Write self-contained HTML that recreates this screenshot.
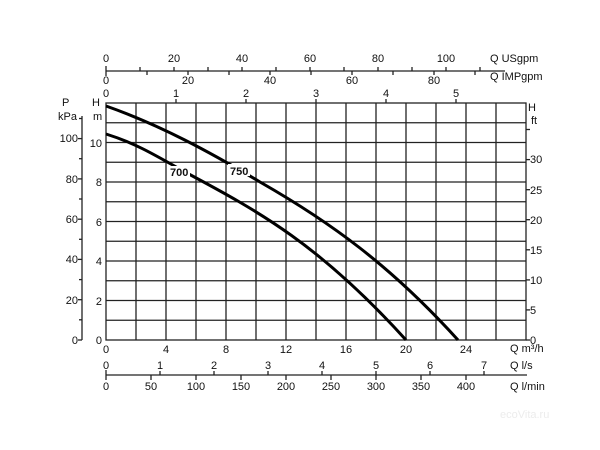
<!DOCTYPE html>
<html><head><meta charset="utf-8"><style>
html,body{margin:0;padding:0;background:#fff}
svg{display:block}
text{font-family:"Liberation Sans",sans-serif;font-size:11px;fill:#111}
</style></head><body>
<svg width="600" height="450" viewBox="0 0 600 450">
<g stroke="#222" stroke-width="1.3" fill="none">
<rect x="106" y="103" width="420" height="237"/>
<line x1="136" y1="103" x2="136" y2="340"/><line x1="166" y1="103" x2="166" y2="340"/><line x1="196" y1="103" x2="196" y2="340"/><line x1="226" y1="103" x2="226" y2="340"/><line x1="256" y1="103" x2="256" y2="340"/><line x1="286" y1="103" x2="286" y2="340"/><line x1="316" y1="103" x2="316" y2="340"/><line x1="346" y1="103" x2="346" y2="340"/><line x1="376" y1="103" x2="376" y2="340"/><line x1="406" y1="103" x2="406" y2="340"/><line x1="436" y1="103" x2="436" y2="340"/><line x1="466" y1="103" x2="466" y2="340"/><line x1="496" y1="103" x2="496" y2="340"/>
<line x1="106" y1="320.25" x2="526" y2="320.25"/><line x1="106" y1="300.5" x2="526" y2="300.5"/><line x1="106" y1="280.75" x2="526" y2="280.75"/><line x1="106" y1="261" x2="526" y2="261"/><line x1="106" y1="241.25" x2="526" y2="241.25"/><line x1="106" y1="221.5" x2="526" y2="221.5"/><line x1="106" y1="201.75" x2="526" y2="201.75"/><line x1="106" y1="182" x2="526" y2="182"/><line x1="106" y1="162.25" x2="526" y2="162.25"/><line x1="106" y1="142.5" x2="526" y2="142.5"/><line x1="106" y1="122.75" x2="526" y2="122.75"/>
<!-- P axis -->
<line x1="82" y1="116" x2="82" y2="340"/>
<line x1="78" y1="340" x2="82" y2="340"/><line x1="78" y1="299.7" x2="82" y2="299.7"/><line x1="78" y1="259.4" x2="82" y2="259.4"/><line x1="78" y1="219.2" x2="82" y2="219.2"/><line x1="78" y1="178.9" x2="82" y2="178.9"/><line x1="78" y1="138.6" x2="82" y2="138.6"/>
<line x1="79" y1="319.8" x2="82" y2="319.8"/><line x1="79" y1="279.6" x2="82" y2="279.6"/><line x1="79" y1="239.3" x2="82" y2="239.3"/><line x1="79" y1="199" x2="82" y2="199"/><line x1="79" y1="158.7" x2="82" y2="158.7"/><line x1="79" y1="118.5" x2="82" y2="118.5"/>
<!-- top axis -->
<line x1="106" y1="71" x2="505" y2="71"/>
<line x1="106" y1="66" x2="106" y2="76"/>
<line x1="174" y1="67" x2="174" y2="71"/><line x1="242" y1="67" x2="242" y2="71"/><line x1="310" y1="67" x2="310" y2="71"/><line x1="378" y1="67" x2="378" y2="71"/><line x1="446" y1="67" x2="446" y2="71"/>
<line x1="140" y1="67" x2="140" y2="71"/><line x1="208" y1="67" x2="208" y2="71"/><line x1="276" y1="67" x2="276" y2="71"/><line x1="344" y1="67" x2="344" y2="71"/><line x1="412" y1="67" x2="412" y2="71"/><line x1="480" y1="67" x2="480" y2="71"/>
<line x1="147" y1="71" x2="147" y2="75"/><line x1="188" y1="71" x2="188" y2="75"/><line x1="229" y1="71" x2="229" y2="75"/><line x1="270" y1="71" x2="270" y2="75"/><line x1="311" y1="71" x2="311" y2="75"/><line x1="352" y1="71" x2="352" y2="75"/><line x1="393" y1="71" x2="393" y2="75"/><line x1="434" y1="71" x2="434" y2="75"/><line x1="475" y1="71" x2="475" y2="75"/>
<line x1="176" y1="99" x2="176" y2="103"/><line x1="246" y1="99" x2="246" y2="103"/><line x1="316" y1="99" x2="316" y2="103"/><line x1="386" y1="99" x2="386" y2="103"/><line x1="456" y1="99" x2="456" y2="103"/>
<!-- right ticks -->
<line x1="526" y1="340" x2="530" y2="340"/><line x1="526" y1="309.9" x2="530" y2="309.9"/><line x1="526" y1="279.9" x2="530" y2="279.9"/><line x1="526" y1="249.8" x2="530" y2="249.8"/><line x1="526" y1="219.7" x2="530" y2="219.7"/><line x1="526" y1="189.7" x2="530" y2="189.7"/><line x1="526" y1="159.6" x2="530" y2="159.6"/><line x1="526" y1="129.5" x2="530" y2="129.5"/>
<!-- bottom axis -->
<line x1="106" y1="375" x2="527" y2="375"/>
<line x1="106" y1="370" x2="106" y2="380"/>
<line x1="160" y1="371" x2="160" y2="375"/><line x1="214" y1="371" x2="214" y2="375"/><line x1="268" y1="371" x2="268" y2="375"/><line x1="322" y1="371" x2="322" y2="375"/><line x1="376" y1="371" x2="376" y2="375"/><line x1="430" y1="371" x2="430" y2="375"/><line x1="484" y1="371" x2="484" y2="375"/>
<line x1="151" y1="375" x2="151" y2="380"/><line x1="196" y1="375" x2="196" y2="380"/><line x1="241" y1="375" x2="241" y2="380"/><line x1="286" y1="375" x2="286" y2="380"/><line x1="331" y1="375" x2="331" y2="380"/><line x1="376" y1="375" x2="376" y2="380"/><line x1="421" y1="375" x2="421" y2="380"/><line x1="466" y1="375" x2="466" y2="380"/>
</g>
<g stroke="#000" stroke-width="3" fill="none">
<path d="M106,106 C160,125 210,152 260,182 C330,222 390,265 458,340"/>
<path d="M106,134 C135,143 155,155 185,172 C260,212 320,245 406,340"/>
</g>
<g font-weight="bold" font-size="11">
<rect x="168" y="166" width="22" height="12" fill="#fff"/><text x="170" y="176">700</text>
<rect x="228" y="164" width="22" height="12" fill="#fff"/><text x="230" y="175">750</text>
</g>
<g text-anchor="middle">
<text x="106" y="62">0</text><text x="174" y="62">20</text><text x="242" y="62">40</text><text x="310" y="62">60</text><text x="378" y="62">80</text><text x="446" y="62">100</text>
<text x="106" y="84">0</text><text x="188" y="84">20</text><text x="270" y="84">40</text><text x="352" y="84">60</text><text x="434" y="84">80</text>
<text x="106" y="97">0</text><text x="176" y="97">1</text><text x="246" y="97">2</text><text x="316" y="97">3</text><text x="386" y="97">4</text><text x="456" y="97">5</text>
<text x="106" y="353">0</text><text x="166" y="353">4</text><text x="226" y="353">8</text><text x="286" y="353">12</text><text x="346" y="353">16</text><text x="406" y="353">20</text><text x="466" y="353">24</text>
<text x="106" y="369">0</text><text x="160" y="369">1</text><text x="214" y="369">2</text><text x="268" y="369">3</text><text x="322" y="369">4</text><text x="376" y="369">5</text><text x="430" y="369">6</text><text x="484" y="369">7</text>
<text x="106" y="390">0</text><text x="151" y="390">50</text><text x="196" y="390">100</text><text x="241" y="390">150</text><text x="286" y="390">200</text><text x="331" y="390">250</text><text x="376" y="390">300</text><text x="421" y="390">350</text><text x="466" y="390">400</text>
</g>
<g text-anchor="end">
<text x="78" y="344">0</text><text x="78" y="304">20</text><text x="78" y="263">40</text><text x="78" y="223">60</text><text x="78" y="183">80</text><text x="78" y="142">100</text>
<text x="102" y="344">0</text><text x="102" y="305">2</text><text x="102" y="265">4</text><text x="102" y="226">6</text><text x="102" y="186">8</text><text x="102" y="147">10</text>
</g>
<text x="62" y="106">P</text><text x="58" y="120">kPa</text>
<text x="92" y="106">H</text><text x="93" y="120">m</text>
<text x="528" y="111">H</text><text x="531" y="124">ft</text>
<g>
<text x="530" y="344">0</text><text x="530" y="314">5</text><text x="530" y="284">10</text><text x="530" y="254">15</text><text x="530" y="224">20</text><text x="530" y="194">25</text><text x="530" y="163">30</text>
</g>
<text x="490" y="62">Q USgpm</text><text x="490" y="80">Q IMPgpm</text>
<text x="510" y="352">Q m³/h</text><text x="510" y="369">Q l/s</text><text x="510" y="390">Q l/min</text>
<text x="500" y="418" font-size="18" style="fill:#ececec">ecoVita.ru</text>
</svg>
</body></html>
